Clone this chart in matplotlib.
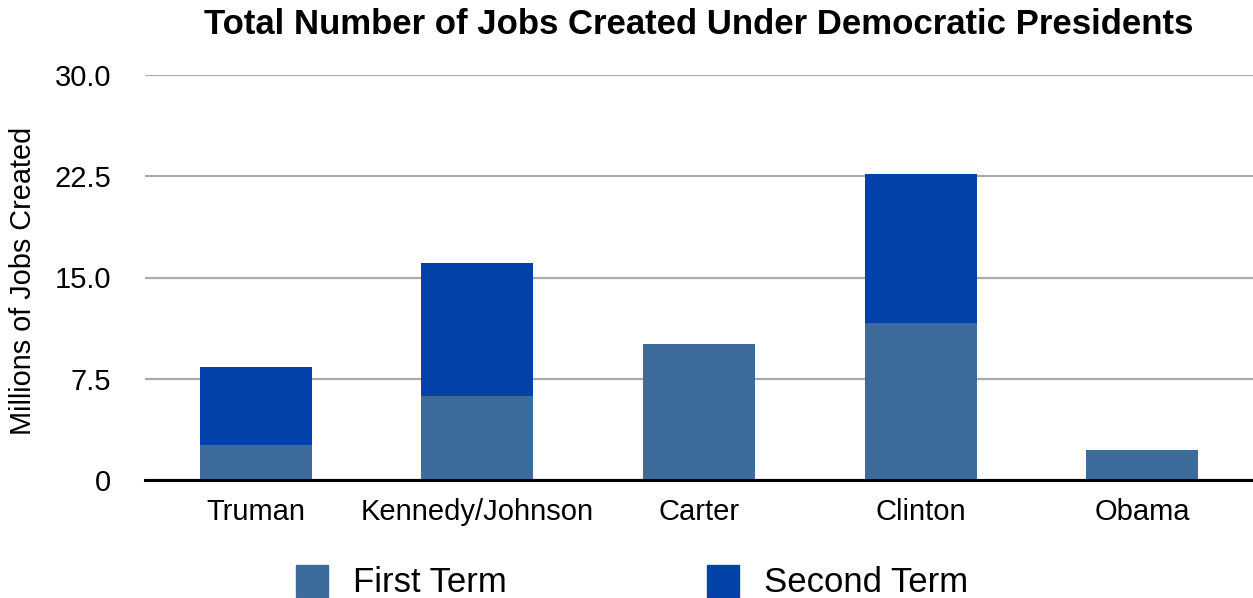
import matplotlib.pyplot as plt
from matplotlib.patches import Rectangle

presidents = ["Truman", "Kennedy/Johnson", "Carter", "Clinton", "Obama"]
first_term = [2.6, 6.2, 10.1, 11.6, 2.2]
second_term = [5.8, 9.9, 0.0, 11.05, 0.0]
yticks = [0, 7.5, 15.0, 22.5, 30.0]
ytick_labels = ["0", "7.5", "15.0", "22.5", "30.0"]

c_first = "#3d6b9b"
c_second = "#0241a8"

plt.rcParams["font.family"] = ["Liberation Sans", "DejaVu Sans"]

W, H = 1253, 598
fig = plt.figure(figsize=(W / 100, H / 100), dpi=100)
ax = fig.add_axes([145 / W, 1 - 480 / H, 1108 / W, 405 / H])

x = range(len(presidents))
ax.bar(x, first_term, width=0.505, color=c_first, zorder=3)
ax.bar(x, second_term, width=0.505, bottom=first_term, color=c_second, zorder=3)

ax.set_xlim(-0.5, 4.5)
ax.set_ylim(0, 30)
ax.set_yticks(yticks)
ax.set_yticklabels(ytick_labels, fontsize=21)
ax.set_xticks(list(x))
ax.set_xticklabels(presidents, fontsize=21)
ax.tick_params(axis="both", length=0)
ax.tick_params(axis="y", pad=24.5)
ax.tick_params(axis="x", pad=13)
ax.yaxis.grid(True, color="#aaaaaa", linewidth=1.6, zorder=0)
for side in ["left", "right", "top"]:
    ax.spines[side].set_visible(False)
ax.spines["bottom"].set_color("black")
ax.spines["bottom"].set_linewidth(2.2)
ax.spines["bottom"].set_zorder(4)

fig.text(23 / W, 1 - 281 / H, "Millions of Jobs Created", rotation=90,
         ha="center", va="center", fontsize=20.8)

fig.text(699 / W, 1 - 24 / H, "Total Number of Jobs Created Under Democratic Presidents",
         ha="center", va="center", fontsize=25, fontweight="bold")

# legend drawn in figure coordinates below the axes
for x0, col, label in [(296, c_first, "First Term"), (707, c_second, "Second Term")]:
    fig.patches.append(Rectangle((x0 / W, 1 - 597 / H), 32 / W, 32 / H,
                                 transform=fig.transFigure, color=col))
    fig.text((x0 + 57) / W, 1 - 582 / H, label, ha="left", va="center", fontsize=25)

fig.savefig("out.png", dpi=100, facecolor="white")
